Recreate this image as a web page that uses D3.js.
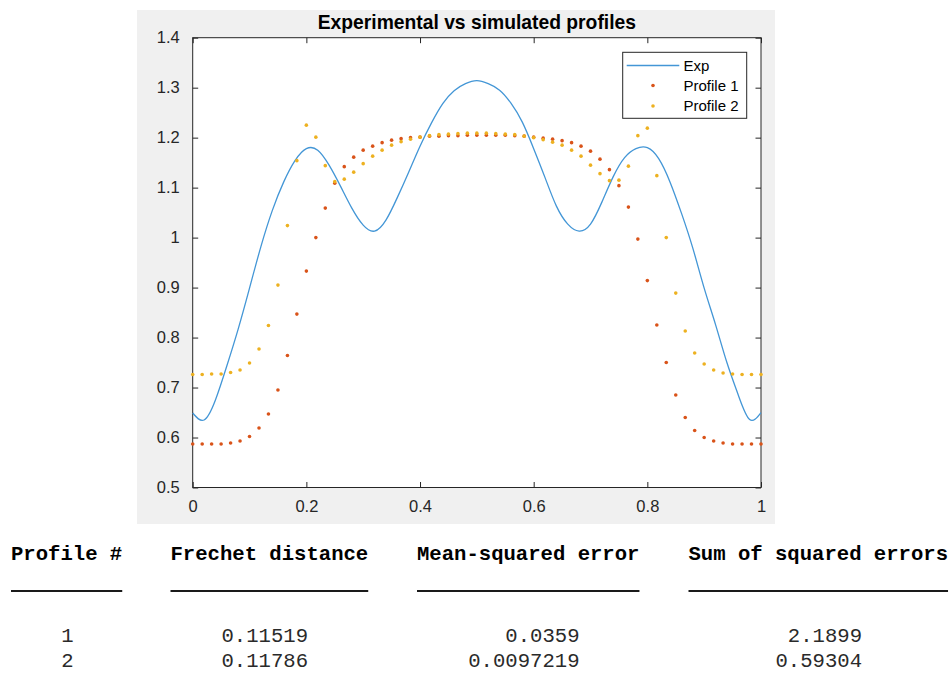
<!DOCTYPE html>
<html>
<head>
<meta charset="utf-8">
<script src="https://cdn.jsdelivr.net/npm/d3@7/dist/d3.min.js"></script>
<style>
  html, body { margin: 0; padding: 0; background: #ffffff; }
  svg { display: block; }
</style>
</head>
<body>
<svg id="fig" width="949" height="673"></svg>
<script>
// Experimental profile, sampled every 0.02
const expX = [0,0.02,0.04,0.06,0.08,0.10,0.12,0.14,0.16,0.18,0.20,0.22,0.24,0.26,0.28,0.30,0.32,0.34,0.36,0.38,0.40,
  0.42,0.44,0.46,0.48,0.50,0.52,0.54,0.56,0.58,0.60,0.62,0.64,0.66,0.68,0.70,0.72,0.74,0.76,0.78,0.80,
  0.82,0.84,0.86,0.88,0.90,0.92,0.94,0.96,0.98,1.00];
const expY = [0.649,0.635,0.675,0.743,0.817,0.899,0.982,1.054,1.111,1.154,1.178,1.175,1.145,1.103,1.059,1.025,1.013,1.035,1.080,1.131,1.183,
  1.229,1.268,1.294,1.308,1.314,1.308,1.295,1.269,1.231,1.178,1.120,1.063,1.027,1.013,1.027,1.071,1.122,1.160,1.178,1.180,
  1.158,1.111,1.049,0.979,0.899,0.826,0.750,0.685,0.636,0.650];

// Simulated profiles, 61 samples on [0, 1]
const simX = [0,0.0167,0.0333,0.05,0.0667,0.0833,0.1,0.1167,0.1333,0.15,0.1667,0.1833,0.2,0.2167,0.2333,0.25,0.2667,0.2833,0.3,0.3167,
  0.3333,0.35,0.3667,0.3833,0.4,0.4167,0.4333,0.45,0.4667,0.4833,0.5,0.5167,0.5333,0.55,0.5667,0.5833,0.6,0.6167,0.6333,0.65,
  0.6667,0.6833,0.7,0.7167,0.7333,0.75,0.7667,0.7833,0.8,0.8167,0.8333,0.85,0.8667,0.8833,0.9,0.9167,0.9333,0.95,0.9667,0.9833,1];
const profile1 = [0.587,0.587,0.587,0.587,0.589,0.593,0.602,0.619,0.647,0.695,0.764,0.847,0.933,1.000,1.059,1.109,1.142,1.161,1.175,1.183,
  1.190,1.195,1.198,1.200,1.201,1.203,1.203,1.204,1.204,1.205,1.205,1.205,1.205,1.205,1.204,1.203,1.201,1.199,1.197,1.194,
  1.190,1.183,1.173,1.157,1.136,1.104,1.061,0.997,0.914,0.825,0.750,0.685,0.640,0.614,0.600,0.593,0.589,0.587,0.587,0.587,0.587];
const profile2 = [0.726,0.726,0.727,0.727,0.730,0.735,0.749,0.777,0.824,0.905,1.024,1.154,1.225,1.201,1.144,1.112,1.117,1.131,1.148,1.163,
  1.175,1.185,1.192,1.197,1.201,1.204,1.206,1.207,1.208,1.209,1.209,1.209,1.208,1.207,1.206,1.203,1.200,1.196,1.191,1.185,
  1.175,1.163,1.145,1.128,1.114,1.115,1.143,1.204,1.219,1.124,1.000,0.889,0.813,0.769,0.747,0.735,0.729,0.727,0.726,0.726,0.726];

const xTicks = [0, 0.2, 0.4, 0.6, 0.8, 1];
const xTickLabels = ["0", "0.2", "0.4", "0.6", "0.8", "1"];
const yTicks = [0.5, 0.6, 0.7, 0.8, 0.9, 1.0, 1.1, 1.2, 1.3, 1.4];
const yTickLabels = ["0.5", "0.6", "0.7", "0.8", "0.9", "1", "1.1", "1.2", "1.3", "1.4"];

const seriesNames = ["Exp", "Profile 1", "Profile 2"];
const titleText = "Experimental vs simulated profiles";

// Results table printed under the figure
const tableHeaders = ["Profile #", "Frechet distance", "Mean-squared error", "Sum of squared errors"];
const profileIds = ["1", "2"];
const frechet = ["0.11519", "0.11786"];
const mse = ["0.0359", "0.0097219"];
const sse = ["2.1899", "0.59304"];

const svg = d3.select("#fig");
const C_EXP = "#4396d6", C_P1 = "#D95319", C_P2 = "#EDB120", AX = "#262626";
const sans = "'Liberation Sans', Arial, Helvetica, sans-serif";
const mono = "'Liberation Mono', 'Courier New', monospace";

// figure background
svg.append("rect").attr("x", 137).attr("y", 10).attr("width", 638).attr("height", 514).attr("fill", "#f0f0f0");

const L = 192.7, R = 761, T = 37.7, B = 487.5;
const x = d3.scaleLinear().domain([0, 1]).range([L, R]);
const y = d3.scaleLinear().domain([0.5, 1.4]).range([B, T]);

svg.append("rect").attr("x", L).attr("y", T).attr("width", R - L).attr("height", B - T).attr("fill", "#fff");

const tick = 5.5;
function styleAxis(g, showLabels) {
  g.select(".domain").remove();
  g.selectAll(".tick line").attr("stroke", AX).attr("stroke-width", 1);
  g.selectAll(".tick text").attr("fill", AX).style("font-family", sans).style("font-size", "16.5px");
  if (!showLabels) g.selectAll(".tick text").remove();
}
svg.append("g").attr("transform", `translate(0,${B})`)
  .call(d3.axisBottom(x).tickValues(xTicks).tickFormat((d, i) => xTickLabels[i]).tickSizeInner(-tick).tickSizeOuter(0).tickPadding(13))
  .call(g => styleAxis(g, true));
svg.append("g").attr("transform", `translate(0,${T})`)
  .call(d3.axisTop(x).tickValues(xTicks).tickSizeInner(-tick).tickSizeOuter(0))
  .call(g => styleAxis(g, false));
svg.append("g").attr("transform", `translate(${L},0)`)
  .call(d3.axisLeft(y).tickValues(yTicks).tickFormat((d, i) => yTickLabels[i]).tickSizeInner(-tick).tickSizeOuter(0).tickPadding(13))
  .call(g => styleAxis(g, true));
svg.append("g").attr("transform", `translate(${R},0)`)
  .call(d3.axisRight(y).tickValues(yTicks).tickSizeInner(-tick).tickSizeOuter(0))
  .call(g => styleAxis(g, false));

// axes box
svg.append("rect").attr("x", L).attr("y", T).attr("width", R - L).attr("height", B - T)
  .attr("fill", "none").attr("stroke", AX).attr("stroke-width", 1);

// experimental curve
const line = d3.line().x((d, i) => x(expX[i])).y(d => y(d)).curve(d3.curveNatural);
svg.append("path").datum(expY).attr("d", line)
  .attr("fill", "none").attr("stroke", C_EXP).attr("stroke-width", 1.3);

// simulated profiles as dots
svg.append("g").selectAll("circle").data(profile1).join("circle")
  .attr("cx", (d, i) => x(simX[i])).attr("cy", d => y(d)).attr("r", 1.8).attr("fill", C_P1);
svg.append("g").selectAll("circle").data(profile2).join("circle")
  .attr("cx", (d, i) => x(simX[i])).attr("cy", d => y(d)).attr("r", 1.8).attr("fill", C_P2);

// title
svg.append("text").attr("x", (L + R) / 2).attr("y", 29).attr("text-anchor", "middle")
  .style("font-family", sans).style("font-size", "19.3px").style("font-weight", "bold").attr("fill", "#000")
  .text(titleText);

// legend
const lg = svg.append("g");
lg.append("rect").attr("x", 622.7).attr("y", 52.3).attr("width", 124).attr("height", 66)
  .attr("fill", "#fff").attr("stroke", AX).attr("stroke-width", 1);
const rows = [65.5, 85.5, 106];
lg.append("line").attr("x1", 626.7).attr("x2", 679.3).attr("y1", rows[0]).attr("y2", rows[0])
  .attr("stroke", C_EXP).attr("stroke-width", 1.3);
lg.append("circle").attr("cx", 653).attr("cy", rows[1]).attr("r", 1.8).attr("fill", C_P1);
lg.append("circle").attr("cx", 653).attr("cy", rows[2]).attr("r", 1.8).attr("fill", C_P2);
lg.selectAll("text.lab").data(seriesNames).join("text").attr("class", "lab")
  .attr("x", 683.5).attr("y", (d, i) => rows[i] + 5.2)
  .style("font-family", sans).style("font-size", "15px").attr("fill", "#000").text(d => d);

// table
const colX = [11, 170.5, 417, 688.5];
const tbl = svg.append("g").style("font-family", mono).style("font-size", "20.6px").attr("fill", "#000");
const heads = tbl.selectAll("text.h").data(tableHeaders).join("text").attr("class", "h")
  .attr("x", (d, i) => colX[i]).attr("y", 560).style("font-weight", "bold").text(d => d);
// rule under each header, as wide as the header text
heads.each(function (d, i) {
  const w = this.getComputedTextLength();
  tbl.append("rect").attr("x", colX[i]).attr("y", 590).attr("width", w).attr("height", 2).attr("fill", "#1a1a1a");
});
const cols = [profileIds, frechet, mse, sse];
const rightEdge = [73.5, 308, 579.5, 862];
const rowY = [641.5, 667];
cols.forEach((vals, c) => {
  tbl.selectAll(null).data(vals).join("text")
    .attr("x", rightEdge[c]).attr("y", (d, i) => rowY[i]).attr("text-anchor", "end")
    .attr("fill", "#2a2a2a").text(d => d);
});
</script>
</body>
</html>
